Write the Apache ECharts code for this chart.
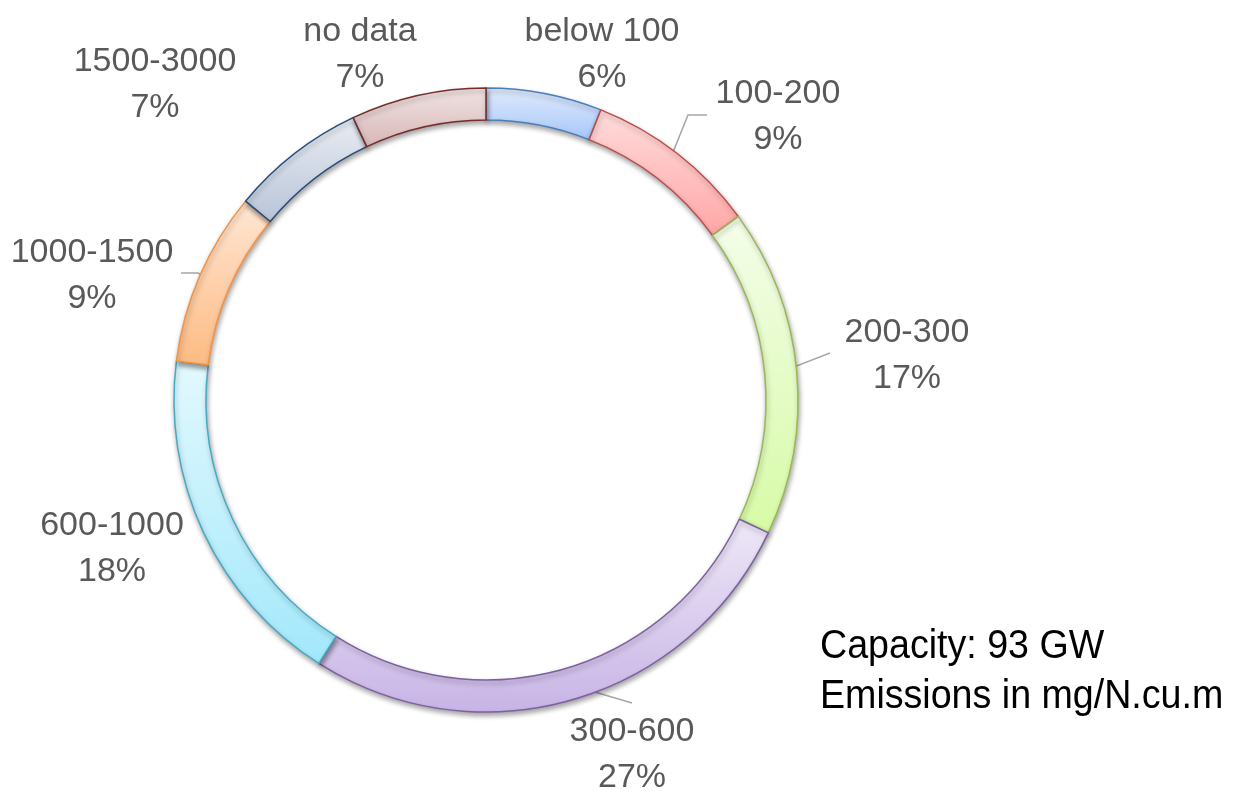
<!DOCTYPE html>
<html>
<head>
<meta charset="utf-8">
<script src="https://cdn.jsdelivr.net/npm/echarts@6/dist/echarts.min.js"></script>
<style>
  html, body { margin: 0; padding: 0; background: #ffffff; }
  #chart { width: 1239px; height: 791px; }
</style>
</head>
<body>
<div id="chart"></div>
<script>
// Share of coal capacity by SO2 emission band (mg/N.cu.m), percent
const categories = ['below 100', '100-200', '200-300', '300-600', '600-1000', '1000-1500', '1500-3000', 'no data'];
const shares = [6, 9, 17, 27, 18, 9, 7, 7];
const noteLines = ['Capacity: 93 GW', 'Emissions in mg/N.cu.m'];

// Fill gradient (top, bottom) and outline per band
const fillTop    = ['#e0ebfd', '#ffdcdc', '#f4fdea', '#eee8f7', '#e3f9fe', '#ffe6d3', '#e9edf3', '#f1e3e3'];
const fillBottom = ['#a7c6f9', '#ffa6a6', '#d7fba6', '#c8b4e6', '#a2e8fb', '#fdbb83', '#b8c4d8', '#d7b7b7'];
const outline    = ['#4a7ebb', '#be4b48', '#98b954', '#7d60a0', '#46aac5', '#f69240', '#254a7a', '#772d2b'];

const FONT = '"Liberation Sans", Arial, sans-serif';
const CX = 486, CY = 400, R_IN = 280, R_OUT = 312;

// Label anchors (center of the two-line block) and leader line bends
const labelSpots = [
  { x: 602, y: 55 },
  { x: 778, y: 117, line: [[688, 115], [707, 115]] },
  { x: 907, y: 356, line: [[830, 353]] },
  { x: 632, y: 755, line: [[632, 703]] },
  { x: 112, y: 549 },
  { x: 92,  y: 276, line: [[198, 273], [181, 273]] },
  { x: 155, y: 85 },
  { x: 360, y: 55 }
];

const total = shares.reduce((a, b) => a + b, 0);
function midPoint(i, r) {
  let before = 0;
  for (let k = 0; k < i; k++) before += shares[k];
  const ang = (before + shares[i] / 2) / total * 2 * Math.PI;
  return [CX + r * Math.sin(ang), CY - r * Math.cos(ang)];
}

const pieData = categories.map((name, i) => ({
  name: name,
  value: shares[i],
  itemStyle: {
    color: new echarts.graphic.LinearGradient(0, 0, 0, 1, [
      { offset: 0, color: fillTop[i] },
      { offset: 1, color: fillBottom[i] }
    ]),
    borderColor: outline[i]
  },
  labelLine: { show: !!labelSpots[i].line }
}));

const chart = echarts.init(document.getElementById('chart'), null, { renderer: 'canvas' });
chart.setOption({
  backgroundColor: '#ffffff',
  animation: false,
  series: [{
    type: 'pie',
    center: [CX, CY],
    radius: [R_IN, R_OUT],
    startAngle: 90,
    clockwise: true,
    avoidLabelOverlap: false,
    data: pieData,
    itemStyle: {
      borderWidth: 1.5,
      shadowColor: 'rgba(0,0,0,0.35)',
      shadowBlur: 5,
      shadowOffsetX: 1,
      shadowOffsetY: 3
    },
    emphasis: { disabled: true },
    label: {
      show: true,
      position: 'outside',
      formatter: '{b}\n{c}%',
      color: '#595959',
      fontFamily: FONT,
      fontSize: 34,
      lineHeight: 46,
      align: 'center'
    },
    labelLine: {
      show: true,
      lineStyle: { color: '#a6a6a6', width: 1.5 }
    },
    labelLayout: function (params) {
      const i = params.dataIndex;
      const spot = labelSpots[i];
      const out = { x: spot.x, y: spot.y, align: 'center', verticalAlign: 'middle' };
      if (spot.line) {
        out.labelLinePoints = [midPoint(i, (R_IN + R_OUT) / 2)].concat(spot.line);
        if (out.labelLinePoints.length === 2) out.labelLinePoints.push(spot.line[0]);
      }
      return out;
    }
  }],
  graphic: [{
    type: 'text',
    x: 820,
    y: 672,
    scaleX: 0.94,
    style: {
      text: noteLines.join('\n'),
      fill: '#000000',
      font: '40px ' + FONT,
      lineHeight: 50,
      verticalAlign: 'middle',
      align: 'left'
    }
  }]
});
</script>
</body>
</html>
